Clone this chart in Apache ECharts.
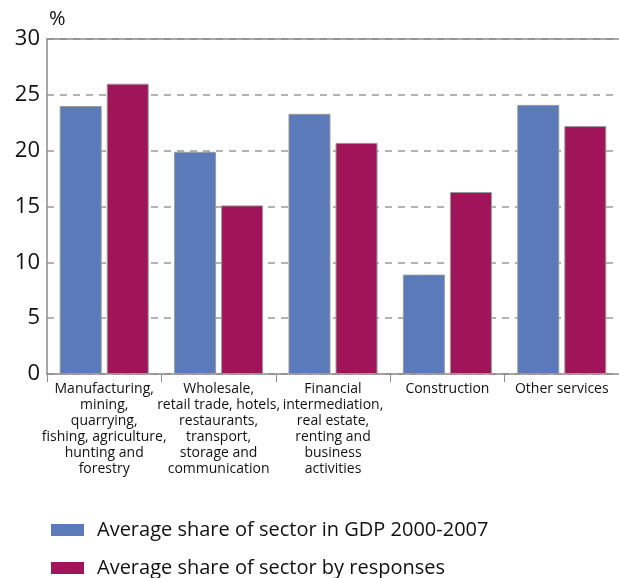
<!DOCTYPE html>
<html><head><meta charset="utf-8">
<script src="https://cdn.jsdelivr.net/npm/echarts@6/dist/echarts.min.js"></script>
<style>html,body{margin:0;padding:0;background:#fff}#c{width:619px;height:578px}</style>
</head><body><div id="c"></div>
<script>
const categories = [
  "Manufacturing,\nmining,\nquarrying,\nfishing, agriculture,\nhunting and\nforestry",
  "Wholesale,\nretail trade, hotels,\nrestaurants,\ntransport,\nstorage and\ncommunication",
  "Financial\nintermediation,\nreal estate,\nrenting and\nbusiness\nactivities",
  "Construction",
  "Other services"
];
const gdpShare = [24.0, 19.9, 23.3, 8.9, 24.1];
const responseShare = [26.0, 15.1, 20.7, 16.3, 22.2];
const seriesNames = ["Average share of sector in GDP 2000-2007", "Average share of sector by responses"];
const yTicks = { min: 0, max: 30, interval: 5 };

const font = "'Open Sans', 'Noto Sans', sans-serif";
const legendText = { fontFamily: font, fontSize: 20, color: '#111', padding: [0, 0, 0, 8] };
const legendBase = { left: 46, itemWidth: 33, itemHeight: 12, icon: 'rect', itemStyle: { borderWidth: 0 }, textStyle: legendText };
const chart = echarts.init(document.getElementById('c'));
chart.setOption({
  animation: false,
  textStyle: { fontFamily: font, color: '#111' },
  grid: { left: 47, top: 39, width: 582, height: 335 },
  legend: [
    Object.assign({}, legendBase, { top: 515, data: [seriesNames[0]] }),
    Object.assign({}, legendBase, { top: 553, data: [seriesNames[1]] })
  ],
  xAxis: [{
    type: 'category', data: categories, position: 'bottom',
    axisLine: { lineStyle: { color: '#8a8a8a', width: 1.5 } },
    axisTick: { show: true, length: 8, lineStyle: { color: '#8a8a8a' } },
    axisLabel: { interval: 0, fontSize: 14, lineHeight: 16, color: '#111', margin: 7, fontFamily: font }
  }, {
    type: 'category', data: categories, position: 'top',
    axisLine: { show: true, lineStyle: { color: '#8a8a8a', width: 1.5 } },
    axisTick: { show: false }, axisLabel: { show: false }, splitLine: { show: false }
  }],
  yAxis: {
    type: 'value', min: yTicks.min, max: yTicks.max, interval: yTicks.interval,
    name: '%', nameLocation: 'end', nameGap: 10,
    nameTextStyle: { fontSize: 20, color: '#111', align: 'left', padding: [0, 0, 0, 2], fontFamily: font },
    axisLine: { show: true, lineStyle: { color: '#8a8a8a', width: 1.5 } },
    axisTick: { show: false },
    axisLabel: { fontSize: 22, color: '#111', margin: 7, fontFamily: font },
    splitLine: { lineStyle: { color: '#9a9a9a', type: [7, 6], width: 1.5 } }
  },
  series: [{
    name: seriesNames[0], type: 'bar', data: gdpShare,
    barWidth: 42, barGap: '12%',
    itemStyle: { color: '#5b7aba', borderColor: '#9a9a9a', borderWidth: 1 }
  }, {
    name: seriesNames[1], type: 'bar', data: responseShare,
    barWidth: 42, barGap: '12%',
    itemStyle: { color: '#a0145a', borderColor: '#9a9a9a', borderWidth: 1 }
  }]
});
</script></body></html>
